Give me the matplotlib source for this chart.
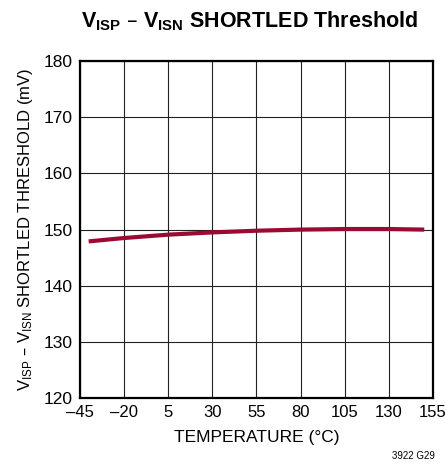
import matplotlib
matplotlib.use("Agg")
import matplotlib.pyplot as plt
from matplotlib import font_manager

names = {f.name for f in font_manager.fontManager.ttflist}
fam = "Liberation Sans Narrow" if "Liberation Sans Narrow" in names else "Liberation Sans"
plt.rcParams['font.family'] = [fam, 'DejaVu Sans']
plt.rcParams['mathtext.default'] = 'regular'

# data
temp = [-40, -20, 5, 30, 55, 80, 105, 130, 150]
thresh = [147.9, 148.5, 149.1, 149.5, 149.8, 150.0, 150.1, 150.1, 150.0]
xticks = [-45, -20, 5, 30, 55, 80, 105, 130, 155]
yticks = [120, 130, 140, 150, 160, 170, 180]

fig = plt.figure(figsize=(4.46, 4.70), dpi=100)
ax = fig.add_axes([0.179, 0.153, 0.792, 0.717])

ax.plot(temp, thresh, color='#9b0a32', lw=3, solid_capstyle='butt', zorder=3)

ax.set_xlim(-45, 155)
ax.set_ylim(120, 180)
ax.set_xticks(xticks)
ax.set_xticklabels([str(t).replace('-', '\u2013') for t in xticks])
ax.set_yticks(yticks)
ax.grid(True, color='#222222', lw=0.8)
for s in ax.spines.values():
    s.set_linewidth(1.6)
    s.set_color('black')
ax.tick_params(axis='y', length=0, labelsize=12.5, pad=5)
ax.tick_params(axis='x', length=0, labelsize=12, pad=5)

ax.set_xlabel('TEMPERATURE (°C)', fontsize=12.5, labelpad=7)
ax.set_ylabel('V$_{ISP}$ – V$_{ISN}$ SHORTLED THRESHOLD (mV)', fontsize=12, labelpad=6)
fig.text(0.56, 0.955, 'V$_{ISP}$ – V$_{ISN}$ SHORTLED Threshold', fontsize=15.5,
         fontweight='bold', ha='center', va='center')
fig.text(0.975, 0.02, '3922 G29', fontsize=7, ha='right', va='bottom')

fig.savefig('out.png', dpi=100)
